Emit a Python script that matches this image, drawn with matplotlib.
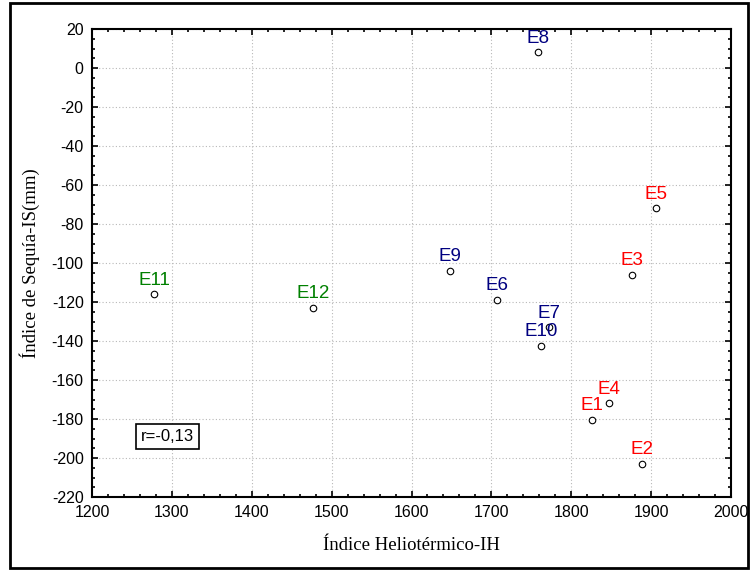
import matplotlib.pyplot as plt
from matplotlib.ticker import MultipleLocator
from matplotlib.patches import Rectangle

plt.rcParams['axes.unicode_minus'] = False

labels = ['E1', 'E2', 'E3', 'E4', 'E5', 'E6', 'E7', 'E8', 'E9', 'E10', 'E11', 'E12']
ih = [1826, 1888, 1876, 1847, 1906, 1707, 1772, 1758, 1648, 1762, 1278, 1477]
is_mm = [-180.5, -203, -106, -172, -72, -119, -133, 8, -104, -142.5, -116, -123]
colors = ['red', 'red', 'red', 'red', 'red', 'navy', 'navy', 'navy', 'navy', 'navy', 'green', 'green']
r_text = 'r=-0,13'

fig = plt.figure(figsize=(7.5, 5.71), dpi=100)
ax = fig.add_axes([92/750, 1-497/571, 639/750, 468/571])

ax.scatter(ih, is_mm, s=22, facecolors='white', edgecolors='black', linewidths=0.8, zorder=3)
for x, y, lab, c in zip(ih, is_mm, labels, colors):
    ax.annotate(lab, (x, y), xytext=(0, 4), textcoords='offset points',
                ha='center', va='bottom', color=c, fontsize=13.5,
                family='Liberation Sans', zorder=4)

ax.set_xlim(1200, 2000)
ax.set_ylim(-220, 20)
ax.xaxis.set_major_locator(MultipleLocator(100))
ax.xaxis.set_minor_locator(MultipleLocator(20))
ax.yaxis.set_major_locator(MultipleLocator(20))
ax.yaxis.set_minor_locator(MultipleLocator(5))
ax.tick_params(which='both', direction='in', top=True, right=True, width=1.2)
ax.tick_params(which='major', length=4, labelsize=11.5, pad=6)
ax.tick_params(which='minor', length=2)
for lab in ax.get_xticklabels() + ax.get_yticklabels():
    lab.set_family('Liberation Sans')
ax.grid(True, which='major', linestyle=(0, (1, 2)), color='#b8b8b8', linewidth=0.8)
for sp in ax.spines.values():
    sp.set_linewidth(1.5)

ax.set_xlabel('Índice Heliotérmico-IH', family='Liberation Serif', fontsize=13.5, labelpad=12)
ax.set_ylabel('Índice de Sequía-IS(mm)', family='Liberation Serif', fontsize=13.5, labelpad=8)

ax.text(1294, -189, r_text, ha='center', va='center', fontsize=12, family='Liberation Sans',
        bbox=dict(boxstyle='square,pad=0.3', facecolor='white', edgecolor='black', linewidth=1.2),
        zorder=5)

fig.patches.append(Rectangle((10/750, 3/571), 738/750, 565/571, transform=fig.transFigure,
                             fill=False, edgecolor='black', linewidth=2))

fig.savefig('out.png', dpi=100)
